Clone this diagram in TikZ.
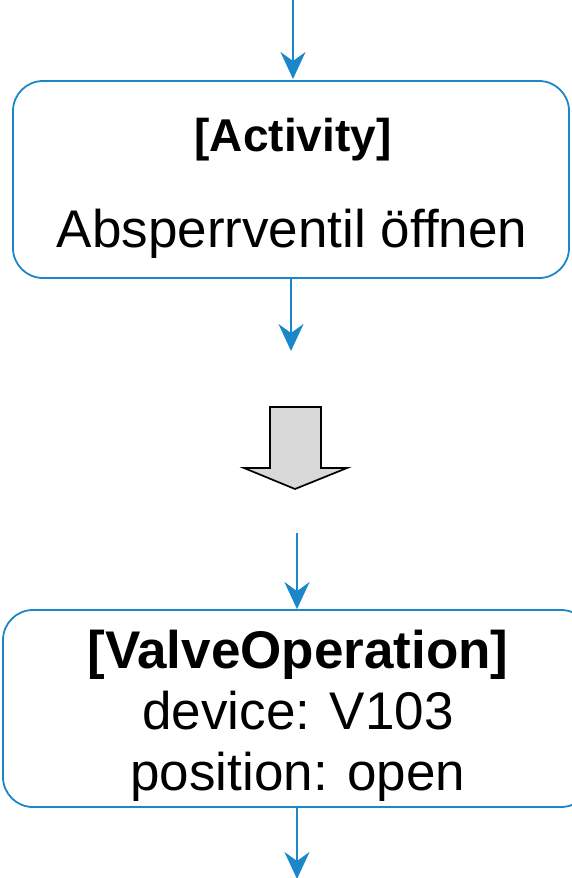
\documentclass[tikz,border=0pt]{standalone}
\usepackage{fontspec}
\setmainfont{Liberation Sans}
\usetikzlibrary{arrows.meta}
\definecolor{flowblue}{RGB}{27,135,201}
\definecolor{biggray}{RGB}{217,217,217}
\tikzset{
  box/.style={draw=flowblue, line width=1.8pt, rounded corners=30pt, rectangle, inner sep=0pt},
  flow/.style={draw=flowblue, line width=2.2pt, -{Stealth[length=27pt,width=25pt,inset=9pt,flowblue]}},
  big/.style={font=\fontsize{53}{61}\selectfont, anchor=base, inner sep=0pt},
  bigb/.style={font=\bfseries\fontsize{53}{61}\selectfont, anchor=base, inner sep=0pt},
  midb/.style={font=\bfseries\fontsize{46}{53}\selectfont, anchor=base, inner sep=0pt},
}
\begin{document}
\begin{tikzpicture}[x=1pt,y=-1pt]
\useasboundingbox (0,0) rectangle (571,878);
% boxes
\node[box, minimum width=556pt, minimum height=197pt] (act) at (291,179.5) {};
\node[box, minimum width=588pt, minimum height=197pt] (valve) at (297,708.5) {};
% texts
\node[midb] (t1) at (293,151) {[Activity]};
\node[big] (t2) at (292,247) {Absperrventil öffnen};
\node[bigb] (t3) at (298,668) {[ValveOperation]};
\node[big] (t4) at (298,729) {device: V103};
\node[big] (t5) at (298,790) {position: open};
% connectors
\coordinate (in1) at (293,0);
\coordinate (in1e) at (293,79);
\coordinate (out1) at (291,351);
\coordinate (in2) at (297,533);
\coordinate (out2) at (297,879);
\draw[flow] (in1) -- (in1e);
\draw[flow] (act.south -| out1) -- (out1);
\draw[flow] (in2) -- (in2 |- valve.north);
\draw[flow] (valve.south) -- (out2);
% big transformation arrow
\draw[fill=biggray, line width=1.7pt, line join=miter]
  (270,407) -- (321,407) -- (321,468) -- (347,468) -- (295,489) -- (244,468) -- (270,468) -- cycle;
\end{tikzpicture}
\end{document}
